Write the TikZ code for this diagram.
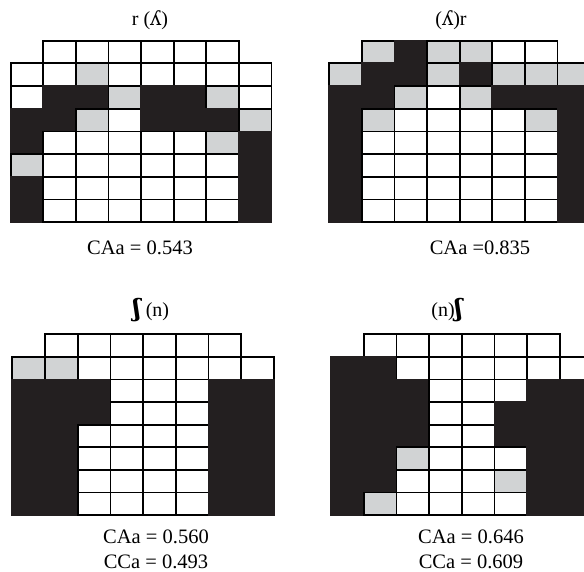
\documentclass[tikz,border=0pt]{standalone}
\usepackage{fontspec}
\setmainfont{Liberation Serif}
\newfontfamily\ipafont{DejaVu Serif}
\definecolor{epgblack}{HTML}{231F20}
\definecolor{epggray}{HTML}{D1D3D4}

\begin{document}
\begin{tikzpicture}[
        x=1pt, y=-1pt,
        cell/.style={draw=black, line width=1.8pt},
        cell w/.style={cell, fill=white},
        cell g/.style={cell, fill=epggray},
        cell b/.style={cell, draw=epgblack, fill=epgblack},
        cell x/.style={draw=none, fill=none},
        title/.style={font=\fontsize{20}{22}\selectfont, inner sep=0pt},
        caption/.style={font=\fontsize{20.5}{25}\selectfont, align=center, inner sep=0pt}
    ]
    \clip (0,0) rectangle (584,572);

    % --- TOP LEFT: r (ʎ) ---
    \node[title] (title1) at (150,20) {r ({\ipafont ʎ})};
    \begin{scope}[shift={(10.7,40.7)}]
    \foreach \row [count=\r from 0] in {
        {x,w,w,w,w,w,w,x},
        {w,w,g,w,w,w,w,w},
        {w,b,b,g,b,b,g,w},
        {b,b,g,w,b,b,b,g},
        {b,w,w,w,w,w,g,b},
        {g,w,w,w,w,w,w,b},
        {b,w,w,w,w,w,w,b},
        {b,w,w,w,w,w,w,b}}{
        \foreach \c [count=\k from 0] in \row
            \path[cell \c] (\k*32.6,\r*22.7) rectangle ++(32.6,22.7);
    }
    \end{scope}
    \node[caption] (cap1) at (140,248) {CAa = 0.543};

    % --- TOP RIGHT: (ʎ)r ---
    \node[title] (title2) at (451,20) {({\ipafont ʎ})r};
    \begin{scope}[shift={(329.3,40.7)}]
    \foreach \row [count=\r from 0] in {
        {x,g,b,g,g,w,w,x},
        {g,b,b,g,b,g,g,g},
        {b,b,g,w,g,b,b,b},
        {b,g,w,w,w,w,g,b},
        {b,w,w,w,w,w,w,b},
        {b,w,w,w,w,w,w,b},
        {b,w,w,w,w,w,w,b},
        {b,w,w,w,w,w,w,b}}{
        \foreach \c [count=\k from 0] in \row
            \path[cell \c] (\k*32.6,\r*22.7) rectangle ++(32.6,22.7);
    }
    \end{scope}
    \node[caption] (cap2) at (480,248) {CAa =0.835};

    % --- BOTTOM LEFT: ʃ (n) ---
    \node[title] (title3) at (151,310) {{\ipafont\bfseries\fontsize{24}{24}\selectfont ʃ} (n)};
    \begin{scope}[shift={(12.3,334.3)}]
    \foreach \row [count=\r from 0] in {
        {x,w,w,w,w,w,w,x},
        {g,g,w,w,w,w,w,w},
        {b,b,b,w,w,w,b,b},
        {b,b,b,w,w,w,b,b},
        {b,b,w,w,w,w,b,b},
        {b,b,w,w,w,w,b,b},
        {b,b,w,w,w,w,b,b},
        {b,b,w,w,w,w,b,b}}{
        \foreach \c [count=\k from 0] in \row
            \path[cell \c] (\k*32.7,\r*22.6) rectangle ++(32.7,22.6);
    }
    \end{scope}
    \node[caption] (cap3) at (156,549) {CAa = 0.560\\CCa = 0.493};

    % --- BOTTOM RIGHT: (n)ʃ ---
    \node[title] (title4) at (447,310) {(n){\ipafont\bfseries\fontsize{24}{24}\selectfont ʃ}};
    \begin{scope}[shift={(331,334.3)}]
    \foreach \row [count=\r from 0] in {
        {x,w,w,w,w,w,w,x},
        {b,b,w,w,w,w,w,w},
        {b,b,b,w,w,w,b,b},
        {b,b,b,w,w,b,b,b},
        {b,b,b,w,w,b,b,b},
        {b,b,g,w,w,w,b,b},
        {b,b,w,w,w,g,b,b},
        {b,g,w,w,w,w,b,b}}{
        \foreach \c [count=\k from 0] in \row
            \path[cell \c] (\k*32.7,\r*22.6) rectangle ++(32.7,22.6);
    }
    \end{scope}
    \node[caption] (cap4) at (471,549) {CAa = 0.646\\CCa = 0.609};

\end{tikzpicture}
\end{document}
